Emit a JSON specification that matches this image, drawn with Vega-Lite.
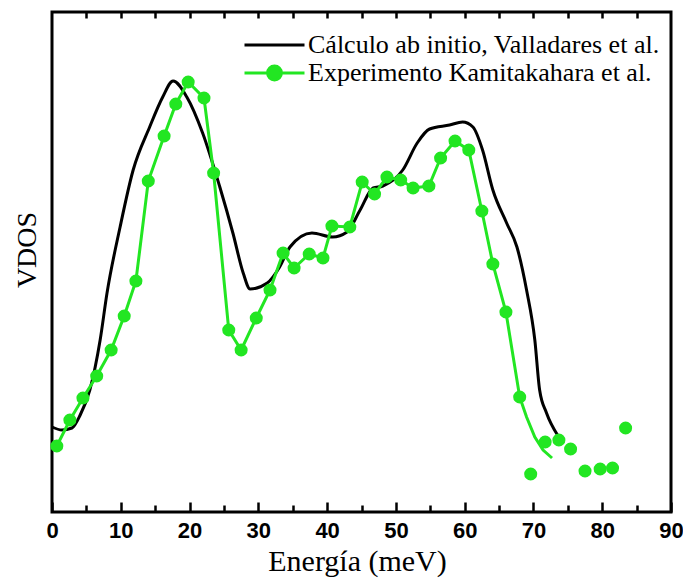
{
  "$schema": "https://vega.github.io/schema/vega-lite/v6.json",
  "width": 619,
  "height": 500,
  "autosize": "none",
  "padding": {"left": 52, "top": 12, "right": 12, "bottom": 66},
  "background": "white",
  "title": {
    "text": "VDOS", "orient": "left", "anchor": "middle", "offset": 4, "dx": 12,
    "font": "Liberation Serif", "fontSize": 28, "fontWeight": "normal", "color": "black"
  },
  "config": {
    "view": {"stroke": "black", "strokeWidth": 3},
    "axis": {"grid": false}
  },
  "datasets": {
    "calc": [
      {"e": 0, "vdos": 17.0}, {"e": 1.45, "vdos": 16.4}, {"e": 2.9, "vdos": 16.8}, {"e": 4.1, "vdos": 19.4},
      {"e": 5.5, "vdos": 24.4}, {"e": 7.0, "vdos": 34.4}, {"e": 8.0, "vdos": 43.8}, {"e": 9.9, "vdos": 57.0},
      {"e": 11.8, "vdos": 68.4}, {"e": 14.2, "vdos": 77.0}, {"e": 16.1, "vdos": 83.0}, {"e": 17.6, "vdos": 86.2},
      {"e": 19.6, "vdos": 83.0}, {"e": 21.9, "vdos": 75.8}, {"e": 24.4, "vdos": 65.0}, {"e": 26.3, "vdos": 55.8},
      {"e": 27.8, "vdos": 47.8}, {"e": 28.8, "vdos": 44.6}, {"e": 31.3, "vdos": 45.8}, {"e": 33.1, "vdos": 49.0},
      {"e": 34.6, "vdos": 53.0}, {"e": 37.8, "vdos": 55.8}, {"e": 40.8, "vdos": 55.0}, {"e": 42.9, "vdos": 56.0},
      {"e": 44.8, "vdos": 60.4}, {"e": 46.7, "vdos": 64.8}, {"e": 48.1, "vdos": 65.2}, {"e": 51.0, "vdos": 68.4},
      {"e": 53.1, "vdos": 73.8}, {"e": 54.9, "vdos": 76.6}, {"e": 57.8, "vdos": 77.4}, {"e": 59.7, "vdos": 78.0},
      {"e": 61.2, "vdos": 77.0}, {"e": 62.6, "vdos": 72.4}, {"e": 64.1, "vdos": 64.4}, {"e": 66.1, "vdos": 57.8},
      {"e": 67.6, "vdos": 53.0}, {"e": 69.0, "vdos": 44.4}, {"e": 70.2, "vdos": 34.4}, {"e": 70.9, "vdos": 24.4},
      {"e": 71.9, "vdos": 19.8}, {"e": 73.5, "vdos": 15.4}
    ],
    "exp_line": [
      {"e": 0.7, "vdos": 13.2}, {"e": 2.6, "vdos": 18.4}, {"e": 4.5, "vdos": 22.8}, {"e": 6.5, "vdos": 27.2},
      {"e": 8.6, "vdos": 32.4}, {"e": 10.5, "vdos": 39.2}, {"e": 12.2, "vdos": 46.2}, {"e": 14.0, "vdos": 66.2},
      {"e": 16.3, "vdos": 75.2}, {"e": 18.0, "vdos": 81.6}, {"e": 19.8, "vdos": 86.0}, {"e": 22.1, "vdos": 82.8},
      {"e": 23.5, "vdos": 67.8}, {"e": 25.7, "vdos": 36.4}, {"e": 27.5, "vdos": 32.4}, {"e": 29.7, "vdos": 38.8},
      {"e": 31.7, "vdos": 44.4}, {"e": 33.6, "vdos": 51.8}, {"e": 35.2, "vdos": 48.8}, {"e": 37.4, "vdos": 51.6},
      {"e": 39.4, "vdos": 50.8}, {"e": 40.7, "vdos": 57.2}, {"e": 43.3, "vdos": 57.0}, {"e": 45.1, "vdos": 66.0},
      {"e": 46.9, "vdos": 63.6}, {"e": 48.7, "vdos": 67.0}, {"e": 50.7, "vdos": 66.4}, {"e": 52.5, "vdos": 64.8},
      {"e": 54.8, "vdos": 65.2}, {"e": 56.5, "vdos": 70.8}, {"e": 58.6, "vdos": 74.2}, {"e": 60.6, "vdos": 72.4},
      {"e": 62.5, "vdos": 60.2}, {"e": 64.1, "vdos": 49.6}, {"e": 66.0, "vdos": 40.0}, {"e": 68.0, "vdos": 23.0},
      {"e": 69.0, "vdos": 19.0}, {"e": 70.2, "vdos": 15.0}, {"e": 71.4, "vdos": 12.4}, {"e": 72.7, "vdos": 10.8}
    ],
    "exp_pts": [
      {"e": 0.7, "vdos": 13.2}, {"e": 2.6, "vdos": 18.4}, {"e": 4.5, "vdos": 22.8}, {"e": 6.5, "vdos": 27.2},
      {"e": 8.6, "vdos": 32.4}, {"e": 10.5, "vdos": 39.2}, {"e": 12.2, "vdos": 46.2}, {"e": 14.0, "vdos": 66.2},
      {"e": 16.3, "vdos": 75.2}, {"e": 18.0, "vdos": 81.6}, {"e": 19.8, "vdos": 86.0}, {"e": 22.1, "vdos": 82.8},
      {"e": 23.5, "vdos": 67.8}, {"e": 25.7, "vdos": 36.4}, {"e": 27.5, "vdos": 32.4}, {"e": 29.7, "vdos": 38.8},
      {"e": 31.7, "vdos": 44.4}, {"e": 33.6, "vdos": 51.8}, {"e": 35.2, "vdos": 48.8}, {"e": 37.4, "vdos": 51.6},
      {"e": 39.4, "vdos": 50.8}, {"e": 40.7, "vdos": 57.2}, {"e": 43.3, "vdos": 57.0}, {"e": 45.1, "vdos": 66.0},
      {"e": 46.9, "vdos": 63.6}, {"e": 48.7, "vdos": 67.0}, {"e": 50.7, "vdos": 66.4}, {"e": 52.5, "vdos": 64.8},
      {"e": 54.8, "vdos": 65.2}, {"e": 56.5, "vdos": 70.8}, {"e": 58.6, "vdos": 74.2}, {"e": 60.6, "vdos": 72.4},
      {"e": 62.5, "vdos": 60.2}, {"e": 64.1, "vdos": 49.6}, {"e": 66.0, "vdos": 40.0}, {"e": 68.0, "vdos": 23.0},
      {"e": 69.6, "vdos": 7.6}, {"e": 71.7, "vdos": 14.0}, {"e": 73.7, "vdos": 14.4}, {"e": 75.4, "vdos": 12.6},
      {"e": 77.5, "vdos": 8.2}, {"e": 79.7, "vdos": 8.6}, {"e": 81.5, "vdos": 8.8}, {"e": 83.4, "vdos": 16.8}
    ]
  },
  "resolve": {"axis": {"x": "independent"}},
  "layer": [
    {
      "data": {"name": "calc"},
      "transform": [{"calculate": "'Cálculo ab initio, Valladares et al.'", "as": "serie"}],
      "mark": {"type": "line", "interpolate": "monotone", "strokeWidth": 3},
      "encoding": {
        "x": {
          "field": "e", "type": "quantitative",
          "scale": {"domain": [0, 90], "nice": false, "zero": false},
          "axis": {
            "values": [0, 5, 10, 15, 20, 25, 30, 35, 40, 45, 50, 55, 60, 65, 70, 75, 80, 85, 90],
            "labelExpr": "datum.value % 10 === 0 ? datum.label : ''",
            "tickSize": {"condition": {"test": "datum.value % 10 === 0", "value": -10}, "value": -7},
            "tickWidth": 2.5, "tickColor": "black", "domain": false,
            "labelFlush": false, "labelFont": "Liberation Sans", "labelFontWeight": "bold",
            "labelFontSize": 22, "labelColor": "black", "labelPadding": 18,
            "title": "Energía (meV)", "titleFont": "Liberation Serif", "titleFontSize": 30,
            "titleFontWeight": "normal", "titleColor": "black",
            "titleX": 305, "titleY": 58, "titleAlign": "center", "titleBaseline": "alphabetic"
          }
        },
        "y": {
          "field": "vdos", "type": "quantitative",
          "scale": {"domain": [0, 100], "nice": false},
          "axis": null
        },
        "color": {
          "field": "serie", "type": "nominal",
          "scale": {
            "domain": ["Cálculo ab initio, Valladares et al.", "Experimento Kamitakahara et al."],
            "range": ["#000000", "#22e622"]
          },
          "legend": {
            "title": null, "orient": "none", "legendX": 191, "legendY": 19,
            "padding": 0, "labelFont": "Liberation Serif", "labelFontSize": 26,
            "labelColor": "black", "labelLimit": 0, "labelOffset": 2,
            "clipHeight": 28, "rowPadding": 0,
            "symbolSize": 3600, "symbolStrokeWidth": 3,
            "encode": {
              "symbols": {
                "update": {
                  "shape": {"signal": "datum.value === 'Experimento Kamitakahara et al.' ? 'M-1,0H1M0.23,0A0.23,0.23,0,1,1,-0.23,0A0.23,0.23,0,1,1,0.23,0Z' : 'M-1,0H1'"},
                  "fill": {"signal": "datum.value === 'Experimento Kamitakahara et al.' ? '#22e622' : 'transparent'"}
                }
              }
            }
          }
        }
      }
    },
    {
      "data": {"name": "exp_line"},
      "transform": [{"calculate": "'Experimento Kamitakahara et al.'", "as": "serie"}],
      "mark": {"type": "line", "strokeWidth": 3},
      "encoding": {
        "x": {
          "field": "e", "type": "quantitative",
          "axis": {
            "orient": "top",
            "values": [5, 10, 15, 20, 25, 30, 35, 40, 45, 50, 55, 60, 65, 70, 75, 80, 85],
            "tickSize": -6, "tickWidth": 2.5, "tickColor": "black",
            "labels": false, "domain": false, "title": null
          }
        },
        "y": {"field": "vdos", "type": "quantitative", "axis": null},
        "color": {"field": "serie", "type": "nominal", "legend": null}
      }
    },
    {
      "data": {"name": "exp_pts"},
      "mark": {"type": "point", "filled": true, "size": 170, "opacity": 1, "color": "#22e622"},
      "encoding": {
        "x": {"field": "e", "type": "quantitative", "axis": null},
        "y": {"field": "vdos", "type": "quantitative", "axis": null}
      }
    }
  ]
}
